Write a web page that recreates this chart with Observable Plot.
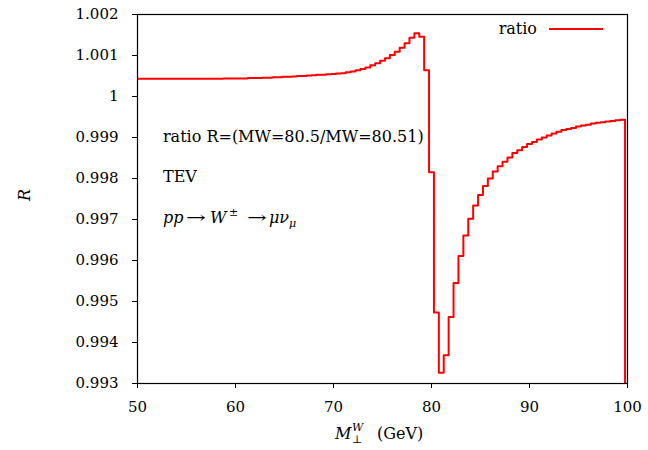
<!DOCTYPE html>
<html><head><meta charset="utf-8">
<script src="https://cdn.jsdelivr.net/npm/d3@7"></script>
<script src="https://cdn.jsdelivr.net/npm/@observablehq/plot@0.6"></script>
<style>
body{margin:0;background:#fff;}
</style></head><body><div id="chart"></div>
<script>
// ---- data ----
const binStart = 50;      // centre of the first bin (GeV)
const binWidth = 0.5;     // bin width (GeV)
const ratio = [
  // 50.0 - 59.5
  1.00043,1.00043,1.00043,1.00043,1.00043,1.00043,1.00043,1.00043,1.00043,1.00043,
  1.00043,1.00043,1.00043,1.00043,1.00043,1.00043,1.00043,1.00043,1.00044,1.00044,
  // 60.0 - 69.5
  1.00044,1.00044,1.00044,1.00045,1.00045,1.00045,1.00046,1.00046,1.00047,1.00047,
  1.00048,1.00048,1.00049,1.00050,1.00050,1.00051,1.00052,1.00053,1.00053,1.00054,
  // 70.0 - 79.5
  1.00055,1.00056,1.00057,1.00059,1.00061,1.00064,1.00067,1.00071,1.00076,1.00081,
  1.00087,1.00093,1.00101,1.00109,1.00119,1.00130,1.00143,1.00154,1.00146,1.00064,
  // 80.0 - 89.5
  0.99815,0.99473,0.99326,0.99369,0.99462,0.99545,0.99611,0.99661,0.99702,0.99734,
  0.99760,0.99782,0.99800,0.99817,0.99830,0.99841,0.99851,0.99862,0.99869,0.99877,
  // 90.0 - 99.5
  0.99884,0.99889,0.99895,0.99900,0.99905,0.99910,0.99914,0.99918,0.99921,0.99923,
  0.99927,0.99929,0.99931,0.99934,0.99936,0.99937,0.99939,0.99940,0.99942,0.99943
];
const xTicks = [50, 60, 70, 80, 90, 100];
const yTicks = [0.993, 0.994, 0.995, 0.996, 0.997, 0.998, 0.999, 1.000, 1.001, 1.002];
const seriesName = "ratio";
const noteLines = ["ratio R=(MW=80.5/MW=80.51)", "TEV"];
const yLabel = "R";

// ---- build step table ----
const rows = ratio.map((v, i) => ({x: binStart - binWidth / 2 + i * binWidth, y: v}));
const lastEdge = binStart - binWidth / 2 + ratio.length * binWidth;
rows.push({x: lastEdge, y: ratio[ratio.length - 1]});
rows.push({x: lastEdge, y: 0.99});

const FONT = "'DejaVu Serif', serif";
const plot = Plot.plot({
  width: 648, height: 450,
  marginLeft: 137, marginRight: 21, marginTop: 14, marginBottom: 67,
  style: {fontFamily: FONT, fontSize: "15px", color: "black", background: "white"},
  x: {domain: [50, 100], label: null},
  y: {domain: [0.993, 1.002], label: null},
  marks: [
    Plot.line(rows, {x: "x", y: "y", curve: "step-after", stroke: "#ff0000", strokeWidth: 2, clip: true}),
    Plot.frame({stroke: "black", strokeWidth: 1.2}),
    Plot.axisX(xTicks, {tickSize: 5, tickPadding: 13, label: null}),
    Plot.axisY(yTicks, {tickSize: 5, tickPadding: 14, label: null, tickFormat: d => String(+d.toFixed(3))})
  ]
});
document.getElementById("chart").appendChild(plot);

// ---- annotations ----
const svg = d3.select(plot);
const sx = plot.scale("x"), sy = plot.scale("y");
const noteX = 52.65;
const noteY = [0.99888, 0.99791, 0.99690];
function txt(x, y) {
  return svg.append("text").attr("x", x).attr("y", y)
    .attr("text-anchor", "start").attr("font-family", FONT)
    .attr("font-size", 16).attr("fill", "black");
}
noteLines.forEach((t, i) => { txt(sx.apply(noteX), sy.apply(noteY[i])).text(t); });
// third line: pp -> W± -> mu nu_mu
{
  const x0 = sx.apply(noteX), y0 = sy.apply(noteY[2]);
  const t = txt(x0, y0);
  t.append("tspan").attr("font-style", "italic").text("pp");
  t.append("tspan").attr("x", x0 + 23).attr("textLength", 20).attr("lengthAdjust", "spacingAndGlyphs").text("→");
  t.append("tspan").attr("x", x0 + 47).attr("font-style", "italic").text("W");
  t.append("tspan").attr("x", x0 + 66).attr("dy", -7).attr("font-size", 11).text("±");
  t.append("tspan").attr("x", x0 + 84).attr("dy", 7).attr("textLength", 20).attr("lengthAdjust", "spacingAndGlyphs").text("→");
  t.append("tspan").attr("x", x0 + 106).attr("font-style", "italic").text("μν");
  t.append("tspan").attr("dy", 4).attr("font-size", 11).attr("font-style", "italic").text("μ");
}

// ---- axis titles ----
svg.append("text")
  .attr("transform", "translate(24,195) rotate(-90)")
  .attr("text-anchor", "middle").attr("dy", "0.35em")
  .attr("font-family", FONT).attr("font-size", 16).attr("font-style", "italic").attr("fill", "black")
  .text(yLabel);
{
  const t = txt(335, 439);
  t.append("tspan").attr("font-style", "italic").text("M");
  t.append("tspan").attr("x", 352).attr("dy", 4).attr("font-size", 11).text("⊥");
  t.append("tspan").attr("x", 352).attr("dy", -12).attr("font-size", 11).attr("font-style", "italic").text("W");
  t.append("tspan").attr("x", 377).attr("dy", 8).text("(GeV)");
}

// ---- legend ----
txt(537, 34).attr("text-anchor", "end").text(seriesName);
svg.append("line").attr("x1", 549).attr("x2", 603).attr("y1", 29).attr("y2", 29)
  .attr("stroke", "#ff0000").attr("stroke-width", 2);
</script>
</body></html>
